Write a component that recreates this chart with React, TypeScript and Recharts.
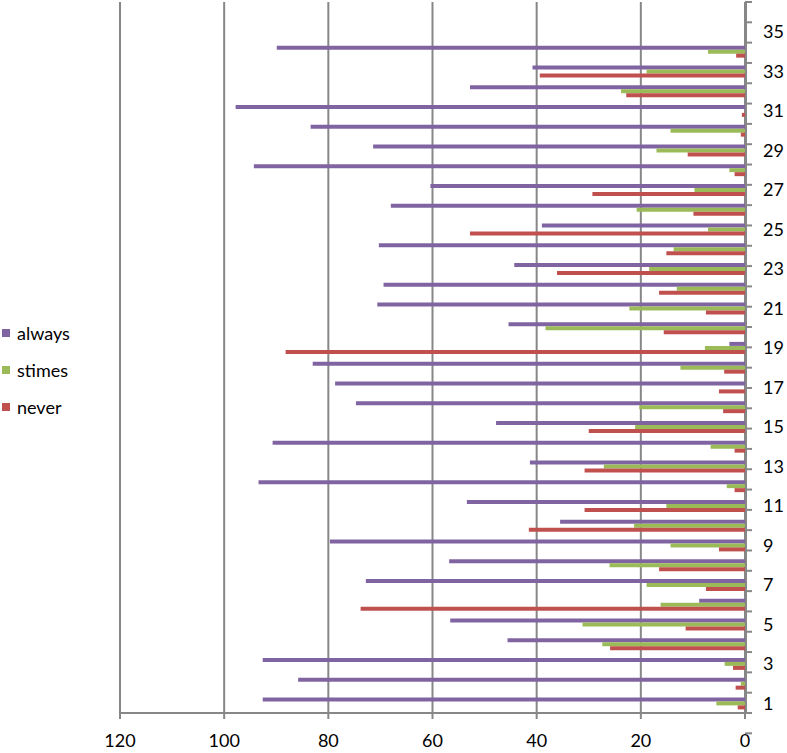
import { BarChart, Bar, XAxis, YAxis, CartesianGrid } from "recharts";

// categories 1..36 (35 and 36 are empty)
const categories = Array.from({ length: 36 }, (_, i) => i + 1);

// values for categories 1..34, bottom to top
const always = [
  92.6, 85.8, 92.6, 45.6, 56.6, 8.8, 72.8, 56.8, 79.7, 35.5,
  53.4, 93.4, 41.3, 90.7, 47.8, 74.7, 78.7, 83, 3, 45.4,
  70.6, 69.4, 44.3, 70.3, 39, 68, 60.4, 94.3, 71.4, 83.4,
  97.8, 52.8, 40.8, 89.9,
];
const stimes = [
  5.5, 0.8, 3.9, 27.4, 31.2, 16.2, 18.9, 26, 14.3, 21.3,
  15.1, 3.5, 27.1, 6.6, 21.1, 20.3, 0, 12.4, 7.7, 38.3,
  22.2, 13.1, 18.4, 13.7, 7.1, 20.8, 9.7, 3, 17, 14.3,
  0, 23.8, 18.9, 7.1,
];
const never = [
  1.4, 1.8, 2.3, 25.9, 11.4, 73.8, 7.5, 16.5, 5, 41.5,
  30.8, 2, 30.8, 2, 30, 4.2, 5, 4, 88.2, 15.6,
  7.5, 16.5, 36.1, 15.1, 52.8, 9.9, 29.3, 2, 11, 0.8,
  0.6, 22.8, 39.4, 1.7,
];
const xTicks = [0, 20, 40, 60, 80, 100, 120];
const boundaryTicks = Array.from({ length: 37 }, (_, i) => i);

const series = [
  { key: "always", name: "always", color: "#8064A2" },
  { key: "stimes", name: "stimes", color: "#9BBB59" },
  { key: "never", name: "never", color: "#C0504D" },
];

const data = categories.map((c, i) => ({
  cat: String(c),
  always: always[i] ?? null,
  stimes: stimes[i] ?? null,
  never: never[i] ?? null,
}));

const FONT = "Lato, 'Open Sans', sans-serif";
const GRID = "#878787";

export default function App() {
  return (
    <div style={{ position: "absolute", left: 0, top: 0, width: 787, height: 753, background: "#fff" }}>
      <BarChart
        width={787}
        height={753}
        data={data}
        layout="vertical"
        margin={{ top: 2, right: 0, bottom: 0, left: 120 }}
        barGap={0}
        barCategoryGap="21%"
      >
        <CartesianGrid horizontal={false} stroke={GRID} strokeWidth={2} verticalValues={xTicks} />
        <XAxis
          type="number"
          reversed
          domain={[0, 120]}
          ticks={xTicks}
          interval={0}
          height={40}
          stroke={GRID}
          strokeWidth={2}
          tickSize={6}
          tickMargin={15}
          tick={{ fill: "#000", fontSize: 18, fontFamily: FONT }}
        />
        {/* tick marks between categories, no labels */}
        <YAxis
          yAxisId={0}
          type="number"
          orientation="right"
          domain={[0, 36]}
          ticks={boundaryTicks}
          interval={0}
          width={1}
          axisLine={false}
          stroke={GRID}
          strokeWidth={2}
          tickSize={7}
          tickFormatter={() => ""}
        />
        <YAxis
          yAxisId="cat"
          type="category"
          dataKey="cat"
          orientation="right"
          reversed
          interval={1}
          width={41}
          stroke={GRID}
          strokeWidth={2}
          tickLine={false}
          tickSize={6}
          tickMargin={11}
          tick={{ fill: "#000", fontSize: 18, fontFamily: FONT }}
        />
        {series.map((s) => (
          <Bar
            key={s.key}
            yAxisId="cat"
            dataKey={s.key}
            name={s.name}
            fill={s.color}
            isAnimationActive={false}
          />
        ))}
      </BarChart>
      <div style={{ position: "absolute", left: 2, top: 314, fontFamily: FONT, fontSize: 18, color: "#000" }}>
        {series.map((s) => (
          <div key={s.key} style={{ display: "flex", alignItems: "center", height: 37 }}>
            <span style={{ width: 8, height: 8, background: s.color, marginRight: 7, display: "inline-block" }} />
            <span>{s.name}</span>
          </div>
        ))}
      </div>
    </div>
  );
}
